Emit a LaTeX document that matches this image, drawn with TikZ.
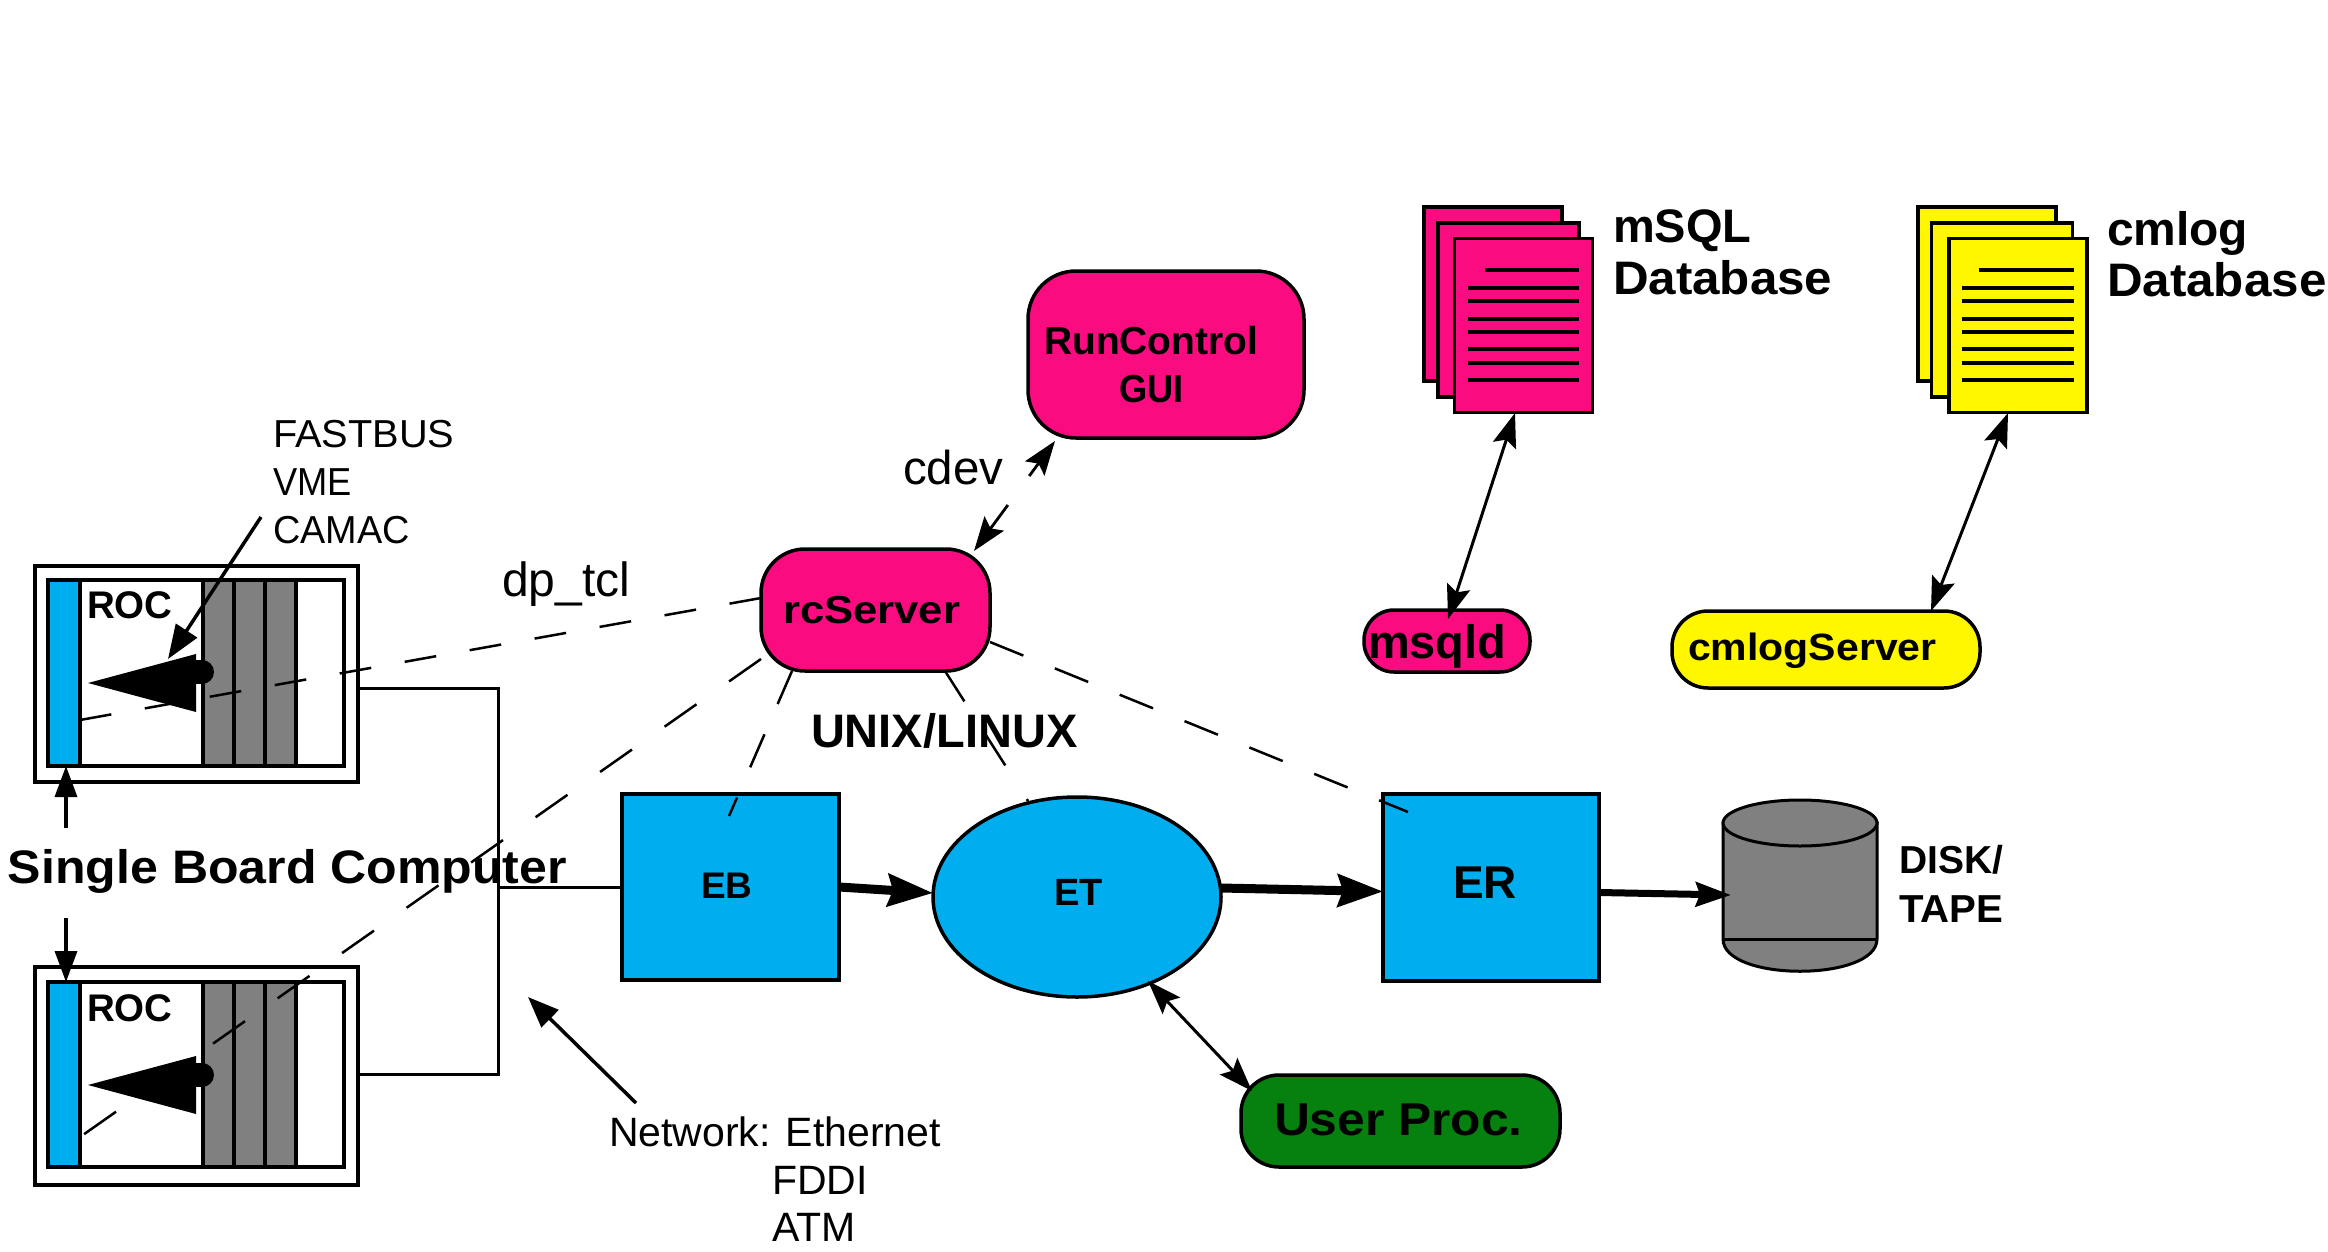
\documentclass[tikz,border=0pt]{standalone}
\usepackage{graphicx}
\usepackage{fontspec}
\setmainfont{Liberation Sans}
\usetikzlibrary{arrows.meta,shapes.geometric}
\definecolor{pinkc}{RGB}{250,12,128}
\definecolor{bluec}{RGB}{0,174,239}
\definecolor{yelc}{RGB}{255,247,0}
\definecolor{greenc}{RGB}{6,128,14}
\definecolor{grayc}{RGB}{128,128,128}
\newcommand{\fs}[1]{\fontsize{#1pt}{#1pt}\selectfont}
\newcommand{\sx}[2]{\scalebox{#1}[1]{#2}}
\tikzset{
  box/.style={draw=black,line width=3.5pt,inner sep=0pt,outer sep=0pt,fill=white},
  pagebox/.style={box,minimum width=138pt,minimum height=174pt},
  lbl/.style={inner sep=0pt,outer sep=0pt,anchor=base west},
  blbl/.style={lbl,font=\bfseries},
  tic/.style={line width=4pt},
  netline/.style={line width=3pt,line join=miter},
  dl/.style={line width=2.5pt},
  arr/.style={line width=3.5pt,-{Triangle[length=34pt,width=25pt,sep=0pt]}},
  dbl/.style={line width=3pt,{Stealth[length=34pt,width=24pt,inset=6pt,sep=0pt]}-{Stealth[length=34pt,width=24pt,inset=6pt,sep=0pt]}},
  fat/.style={line width=9pt,-{Stealth[length=45pt,width=32pt,inset=5pt,sep=0pt]}},
  mid/.style={line width=7pt,-{Stealth[length=35pt,width=24pt,inset=4pt,sep=0pt]}},
}
\begin{document}
\begin{tikzpicture}[x=1pt,y=-1pt]
\useasboundingbox (0,0) rectangle (2328,1252);
\fill[white] (0,0) rectangle (2328,1252);

% ROC crates
\node[box,minimum width=323pt,minimum height=216pt] (roc1) at (196.5,674) {};
\node[box,minimum width=296pt,minimum height=186pt] (roc1in) at (196,673) {};
\node[box,fill=bluec,minimum width=32pt,minimum height=186pt] (roc1blue) at (64,673) {};
\node[box,fill=grayc,minimum width=31pt,minimum height=186pt] (roc1a) at (218.5,673) {};
\node[box,fill=grayc,minimum width=31pt,minimum height=186pt] (roc1b) at (249.5,673) {};
\node[box,fill=grayc,minimum width=31pt,minimum height=186pt] (roc1c) at (280.5,673) {};
\node[box,minimum width=323pt,minimum height=218pt] (roc2) at (196.5,1076) {};
\node[box,minimum width=296pt,minimum height=185pt] (roc2in) at (196,1074.5) {};
\node[box,fill=bluec,minimum width=32pt,minimum height=185pt] (roc2blue) at (64,1074.5) {};
\node[box,fill=grayc,minimum width=31pt,minimum height=185pt] (roc2a) at (218.5,1074.5) {};
\node[box,fill=grayc,minimum width=31pt,minimum height=185pt] (roc2b) at (249.5,1074.5) {};
\node[box,fill=grayc,minimum width=31pt,minimum height=185pt] (roc2c) at (280.5,1074.5) {};
\node[blbl,font=\bfseries\fs{38.5}] (roc1t) at (87,618) {ROC};
\node[blbl,font=\bfseries\fs{38.5}] (roc2t) at (87,1021) {ROC};

% main boxes
\node[box,fill=pinkc,rounded corners=48pt,minimum width=276pt,minimum height=167pt] (gui) at (1166,354.5) {};
\node[box,fill=pinkc,rounded corners=44pt,minimum width=229pt,minimum height=122pt] (rc) at (875.5,610) {};
\node[box,fill=bluec,minimum width=217pt,minimum height=186pt] (eb) at (730.5,887) {};
\node[box,fill=bluec,ellipse,minimum width=288pt,minimum height=200pt] (et) at (1077,897) {};
\node[box,fill=bluec,minimum width=216pt,minimum height=187pt] (er) at (1491,887.5) {};
\node[box,fill=greenc,rounded corners=38pt,minimum width=319pt,minimum height=92pt] (user) at (1400.5,1121) {};
\node[box,fill=pinkc,rounded corners=30pt,minimum width=166pt,minimum height=62pt] (msqld) at (1447,641) {};
\node[box,fill=yelc,rounded corners=36pt,minimum width=308pt,minimum height=77pt] (cmlogs) at (1826,649.5) {};

% database stacks
\node[pagebox,fill=pinkc] (m1) at (1493,294) {};
\node[pagebox,fill=pinkc,minimum width=141pt] (m2) at (1508.5,310) {};
\node[pagebox,fill=pinkc] (m3) at (1523.5,325.5) {};
\node[pagebox,fill=yelc] (c1) at (1987,294) {};
\node[pagebox,fill=yelc,minimum width=141pt] (c2) at (2002,310) {};
\node[pagebox,fill=yelc] (c3) at (2018,325.5) {};
\draw[tic] (1485,270) -- (1579,270);
\foreach \y in {288,301,319,332,349,363,380} \draw[tic] (1468,\y) -- (1579,\y);
\draw[tic] (1979,270) -- (2074,270);
\foreach \y in {288,301,319,332,349,363,380} \draw[tic] (1962,\y) -- (2074,\y);

% disk
\node[inner sep=0pt,outer sep=0pt,minimum width=154pt,minimum height=171pt] (disk) at (1800,885.5) {};
\draw[line width=3pt,fill=grayc] (1723,823) -- (1723,939) .. controls (1723,982) and (1877,982) .. (1877,939) -- (1877,823) -- cycle;
\draw[line width=3pt] (1723,939) -- (1877,939);
\draw[line width=3pt,fill=grayc] (1800,823) ellipse [x radius=77pt,y radius=23pt];

% network
\coordinate (busTop) at (498,688);
\coordinate (busMid) at (498,887);
\coordinate (busBot) at (498,1074);
\draw[netline] ([yshift=-14pt]roc1.east) -- (busTop) -- (busBot) -- ([yshift=2pt]roc2.east);
\draw[netline] (busMid) -- (eb.west);

% dashed control lines
\draw[dl,dash pattern=on 32pt off 34pt] ([yshift=12pt]rc.west) -- ([yshift=-47pt]roc1blue.east);
\draw[dl,dash pattern=on 39pt off 39.8pt] ([yshift=-49pt]rc.west) -- ([yshift=-62.5pt]roc2blue.east);
\coordinate (ebEnd) at (729,816);
\coordinate (etEnd) at (1028,801);
\coordinate (erEnd) at (1408,812);
\draw[dl,dash pattern=on 36pt off 33pt] ([xshift=-83.5pt]rc.south) -- (ebEnd);
\draw[dl,dash pattern=on 36pt off 40pt] ([xshift=69.5pt]rc.south) -- (etEnd);
\draw[dl,dash pattern=on 36pt off 34pt] ([yshift=-32pt]rc.east) -- (erEnd);

% bus-module arrows (solid heads)
\fill (196,654) -- (88,683) -- (196,712) -- cycle;
\draw[line width=24pt,line cap=round] (196,672) -- (202,672);
\fill (196,1056) -- (88,1085) -- (196,1114) -- cycle;
\draw[line width=24pt,line cap=round] (196,1075) -- (202,1075);

% arrows
\coordinate (fbStart) at (261,517);
\coordinate (fbTip) at (168,659);
\draw[arr] (fbStart) -- (fbTip);
\coordinate (sbcUp) at (66,828);
\coordinate (sbcDn) at (66,918);
\draw[arr,-{Triangle[length=31pt,width=22pt,sep=0pt]}] (sbcUp) -- (roc1in.south -| sbcUp);
\draw[arr,-{Triangle[length=31pt,width=22pt,sep=0pt]}] (sbcDn) -- (roc2in.north -| sbcDn);
\coordinate (netStart) at (636,1103);
\coordinate (netTip) at (528,997);
\draw[arr,-{Triangle[length=31pt,width=24pt,sep=0pt]}] (netStart) -- (netTip);
\coordinate (guiTip) at (1055,441);
\coordinate (rcTip) at (974,551);
\draw[line width=2.8pt,dash pattern=on 30pt off 36pt,{Stealth[length=34pt,width=24pt,inset=6pt,sep=0pt]}-{Stealth[length=34pt,width=24pt,inset=6pt,sep=0pt]}] (rcTip) -- (guiTip);
\coordinate (mTip) at (1515,413);
\coordinate (dTip) at (1448,619);
\draw[dbl] (mTip) -- (dTip);
\coordinate (cTip) at (2008,413);
\coordinate (sTip) at (1931,611);
\draw[dbl] (cTip) -- (sTip);
\coordinate (etTip) at (1148,981);
\coordinate (upTip) at (1252,1091);
\draw[dbl] (etTip) -- (upTip);
\draw[fat] ([yshift=0pt]eb.east) -- ([yshift=4pt]et.west);
\draw[fat] ([yshift=9pt]et.east) -- ([yshift=-4pt]er.west);
\draw[mid] ([yshift=-5pt]er.east) -- ([xshift=8pt,yshift=-9.5pt]disk.west);

% labels
\node[lbl,font=\fs{39}] (fb1) at (273,447) {\sx{1.02}{FASTBUS}};
\node[lbl,font=\fs{39}] (fb2) at (273,495) {\sx{0.93}{VME}};
\node[lbl,font=\fs{39}] (fb3) at (273,543) {\sx{0.97}{CAMAC}};
\node[lbl,font=\fs{48}] (dptcl) at (502,596) {dp\_tcl};
\node[lbl,font=\fs{47.5}] (cdevt) at (903,484) {cdev};
\node[blbl,font=\bfseries\fs{39}] (guit1) at (1044,354) {RunControl};
\node[blbl,font=\bfseries\fs{39}] (guit2) at (1119,402) {\sx{0.93}{GUI}};
\node[blbl,font=\bfseries\fs{39}] (rct) at (783,623) {\sx{1.12}{rcServer}};
\node[blbl,font=\bfseries\fs{47}] (unix) at (811,747) {UNIX/LINUX};
\node[blbl,font=\bfseries\fs{37}] (ebt) at (701,898) {EB};
\node[blbl,font=\bfseries\fs{38}] (ett) at (1054,905) {ET};
\node[blbl,font=\bfseries\fs{46}] (ert) at (1453,898) {ER};
\node[blbl,font=\bfseries\fs{39}] (d1) at (1899,873) {DISK/};
\node[blbl,font=\bfseries\fs{39}] (d2) at (1899,922) {\sx{1.03}{TAPE}};
\node[blbl,font=\bfseries\fs{46}] (upt) at (1274,1135) {\sx{1.08}{User Proc.}};
\node[blbl,font=\bfseries\fs{47}] (sbc) at (8,883) {\sx{1.065}{Single Board Computer}};
\node[lbl,font=\fs{41}] (n1) at (609,1146) {Network: Ethernet};
\node[lbl,font=\fs{41}] (n2) at (772,1194) {FDDI};
\node[lbl,font=\fs{41}] (n3) at (772,1241) {ATM};
\node[blbl,font=\bfseries\fs{47}] (ms1) at (1613,242) {mSQL};
\node[blbl,font=\bfseries\fs{47}] (ms2) at (1613,294) {\sx{1.05}{Database}};
\node[blbl,font=\bfseries\fs{47}] (cl1) at (2107,245) {\sx{1.02}{cmlog}};
\node[blbl,font=\bfseries\fs{47}] (cl2) at (2107,296) {\sx{1.05}{Database}};
\node[blbl,font=\bfseries\fs{47}] (msq) at (1368,658) {msqld};
\node[blbl,font=\bfseries\fs{38}] (clt) at (1688,660) {\sx{1.08}{cmlogServer}};
\end{tikzpicture}
\end{document}
